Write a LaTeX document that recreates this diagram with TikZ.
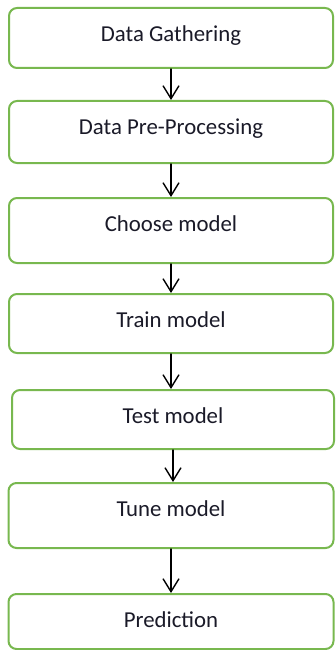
\documentclass[tikz,border=0pt]{standalone}
\usepackage{fontspec}
\setmainfont{Carlito}
\usetikzlibrary{arrows.meta}
\definecolor{boxgreen}{HTML}{78B84F}
\definecolor{textnavy}{HTML}{1A1A28}
\begin{document}
\begin{tikzpicture}[x=1pt,y=-1pt,>={Straight Barb[length=13pt,width=16pt]}, font=\fontsize{22.8}{27}\selectfont, line join=round, line cap=round,
	stage/.style={draw=boxgreen,line width=2pt,rounded corners=8pt,fill=white,text=textnavy,anchor=north,
		minimum width=324pt,inner ysep=0pt,text height=33.2pt,text depth=#1}]
	\useasboundingbox (0,0) rectangle (335,650);
	% the seven steps, top to bottom
	\node[stage=26.8pt] (gather) at (171,7) {Data Gathering};
	\node[stage=28.8pt] (prep) at (171,100) {Data Pre-Processing};
	\node[stage=31.8pt] (choose) at (171,197) {Choose model};
	\node[stage=25.8pt] (train) at (171,293) {Train model};
	\node[stage=25.8pt,minimum width=322pt] (test) at (173,389) {Test model};
	\node[stage=31.8pt,minimum width=325pt] (tune) at (171,482) {Tune model};
	\node[stage=21.8pt,minimum width=325pt] (predict) at (171,593) {Prediction};
	\foreach \a/\b in {gather/prep,prep/choose,choose/train,train/test,test/tune,tune/predict}
		\draw[->,line width=1.4pt] (\a) -- (\a |- \b.north);
\end{tikzpicture}
\end{document}
